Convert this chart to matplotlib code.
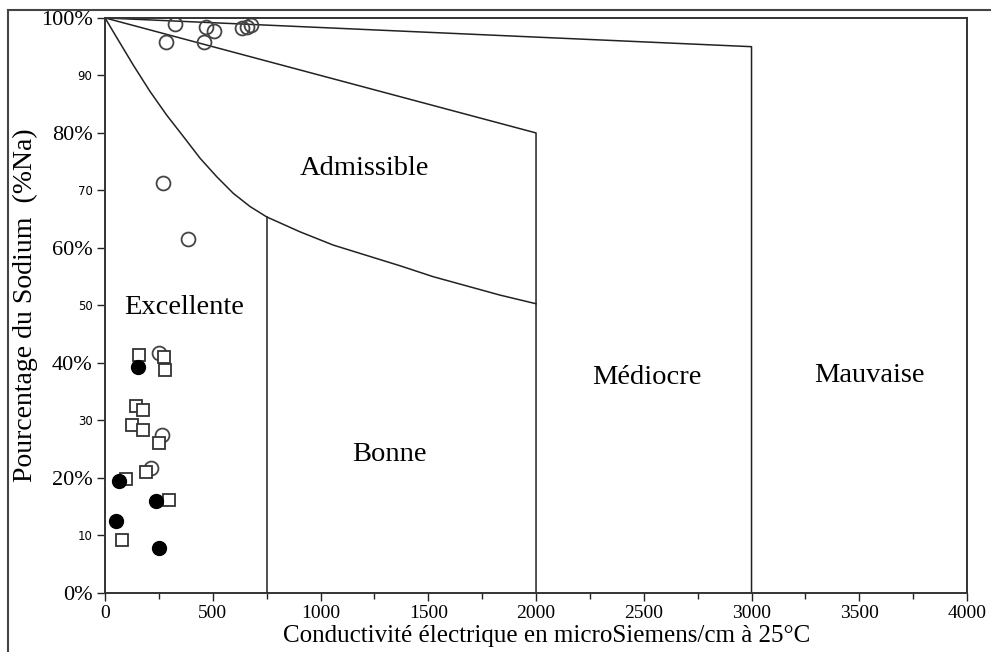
import matplotlib
matplotlib.use("Agg")
import matplotlib.pyplot as plt
from matplotlib.patches import Rectangle

# --- data (Wilcox diagram) ---
# open circles
circ_x = [323, 469, 507, 634, 660, 677, 283, 458, 269, 385, 252, 263, 213]
circ_y = [99.0, 98.5, 97.8, 98.3, 98.4, 98.8, 95.8, 95.9, 71.3, 61.6, 41.8, 27.5, 21.7]
# open squares
sq_x = [158, 275, 280, 142, 175, 125, 175, 252, 192, 99, 295, 79]
sq_y = [41.4, 41.0, 38.7, 32.6, 31.8, 29.3, 28.3, 26.0, 21.1, 19.8, 16.2, 9.2]
# filled circles
fill_x = [153, 65, 237, 52, 252]
fill_y = [39.3, 19.5, 16.0, 12.5, 7.9]

# class boundaries
top_x = [0, 3000, 3000]
top_y = [100, 95, 0]
mid_x = [0, 2000, 2000]
mid_y = [100, 80, 0]
curve_x = [0, 54, 131, 209, 286, 363, 441, 518, 595, 673, 750,
           905, 1059, 1214, 1369, 1523, 1678, 1833, 2000]
curve_y = [100, 96.6, 91.8, 87.2, 83.1, 79.4, 75.6, 72.4, 69.5, 67.2, 65.4,
           62.8, 60.5, 58.7, 56.9, 55.0, 53.4, 51.8, 50.3]
bonne_x = [750, 750]
bonne_y = [65.4, 0]

zones = ["Excellente", "Admissible", "Bonne", "Médiocre", "Mauvaise"]
zone_x = [365, 1205, 1320, 2515, 3548]
zone_y = [49.6, 73.9, 24.1, 37.4, 37.8]

yticks = [0, 10, 20, 30, 40, 50, 60, 70, 80, 90, 100]
ylabels = ["0%", "10", "20%", "30", "40%", "50", "60%", "70", "80%", "90", "100%"]

serif = "Liberation Serif"
ink = "#222222"

fig = plt.figure(figsize=(9.91, 6.52), dpi=100)
ax = fig.add_axes([0.106, 0.0905, 0.8698, 0.882])

ax.plot(top_x, top_y, color=ink, lw=1.1)
ax.plot(mid_x, mid_y, color=ink, lw=1.1)
ax.plot(curve_x, curve_y, color=ink, lw=1.1)
ax.plot(bonne_x, bonne_y, color=ink, lw=1.1)

ax.plot(circ_x, circ_y, "o", ms=10, mfc="none", mec="#444444", mew=1.3, ls="none")
ax.plot(sq_x, sq_y, "s", ms=8, mfc="white", mec="#333333", mew=1.3, ls="none")
ax.plot(fill_x, fill_y, "o", ms=10, mfc="black", mec="black", ls="none")

for name, x, y in zip(zones, zone_x, zone_y):
    ax.text(x, y, name, ha="center", va="center", fontsize=20.5, family=serif, color="black")

ax.set_xlim(0, 4000)
ax.set_ylim(0, 100)
ax.set_xticks(range(0, 4001, 500))
ax.set_xticks(range(250, 4000, 500), minor=True)
ax.set_xticklabels([str(v) for v in range(0, 4001, 500)], family=serif, fontsize=14)
ax.set_yticks(yticks)
ax.set_yticklabels(ylabels)
for lab, txt in zip(ax.get_yticklabels(), ylabels):
    if txt.endswith("%"):
        lab.set_family(serif)
        lab.set_fontsize(16)
    else:
        lab.set_family("DejaVu Sans")
        lab.set_fontsize(8.5)

ax.tick_params(axis="both", direction="out", length=6, width=1, color=ink, pad=3)
ax.tick_params(axis="x", which="minor", length=4, width=1, color=ink)
for s in ax.spines.values():
    s.set_color("#333333")
    s.set_linewidth(1.4)

ax.set_xlabel("Conductivité électrique en microSiemens/cm à 25°C", family=serif, fontsize=18)
ax.xaxis.set_label_coords(0.512, -0.055)
ax.set_ylabel("Pourcentage du Sodium  (%Na)", family=serif, fontsize=20, labelpad=2)

# outer frame of the figure
fig.patches.append(Rectangle((8 / 991, -0.05), 1.0, 1 - 10 / 652 + 0.05,
                             transform=fig.transFigure, fill=False, ec="#444444", lw=1.5))

fig.savefig("out.png", dpi=100)
